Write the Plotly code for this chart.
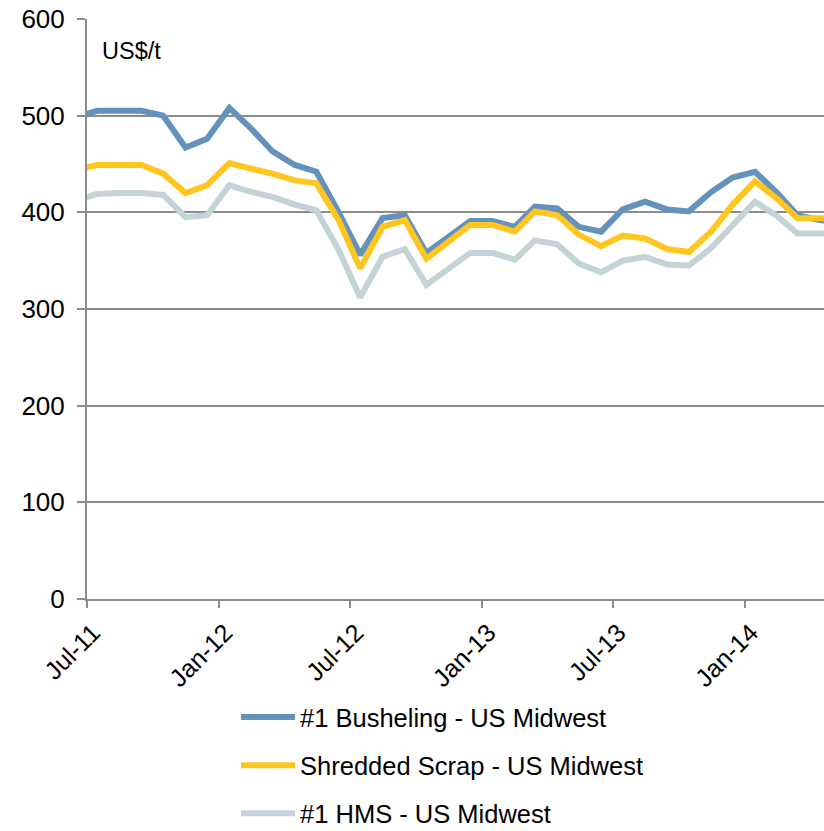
import plotly.graph_objects as go

months = ["2011-06-15", "2011-07-15", "2011-08-15", "2011-09-15", "2011-10-15", "2011-11-15",
          "2011-12-15", "2012-01-15", "2012-02-15", "2012-03-15", "2012-04-15", "2012-05-15",
          "2012-06-15", "2012-07-15", "2012-08-15", "2012-09-15", "2012-10-15", "2012-11-15",
          "2012-12-15", "2013-01-15", "2013-02-15", "2013-03-15", "2013-04-15", "2013-05-15",
          "2013-06-15", "2013-07-15", "2013-08-15", "2013-09-15", "2013-10-15", "2013-11-15",
          "2013-12-15", "2014-01-15", "2014-02-15", "2014-03-15", "2014-04-15", "2014-05-15"]

busheling = [498, 505, 505, 505, 500, 467, 476, 508, 486, 463, 449, 442,
             400, 356, 394, 397, 358, 374, 391, 391, 385, 406, 404, 385,
             380, 403, 411, 403, 401, 421, 436, 442, 420, 397, 392, 390]
shredded = [444, 449, 449, 449, 440, 420, 428, 451, 445, 440, 433, 430,
            392, 342, 385, 392, 352, 370, 387, 387, 380, 401, 397, 377,
            365, 376, 373, 362, 359, 380, 408, 432, 414, 394, 394, 394]
hms = [412, 419, 420, 420, 418, 395, 397, 428, 421, 416, 408, 402,
       361, 312, 354, 362, 325, 341, 358, 358, 351, 371, 367, 347,
       338, 350, 354, 346, 345, 363, 387, 411, 396, 378, 378, 378]

series_names = ["#1 Busheling - US Midwest", "Shredded Scrap - US Midwest", "#1 HMS - US Midwest"]
series_colors = ["#6592BD", "#FFC620", "#C4D4D6"]

tick_vals = ["2011-07-01", "2012-01-01", "2012-07-01", "2013-01-01", "2013-07-01", "2014-01-01"]
tick_text = ["Jul-11", "Jan-12", "Jul-12", "Jan-13", "Jul-13", "Jan-14"]

fig = go.Figure()
for name, vals, col in zip(series_names, [busheling, shredded, hms], series_colors):
    fig.add_trace(go.Scatter(x=months, y=vals, mode="lines", name=name, legendgroup=name,
                             line=dict(color=col, width=6)))

fig.update_layout(
    width=824, height=831,
    margin=dict(l=87, r=0, t=19, b=232, autoexpand=False),
    paper_bgcolor="white", plot_bgcolor="white",
    font=dict(family="Liberation Sans, Arial, sans-serif", color="black"),
    showlegend=True,
    legend=dict(orientation="v", x=0.2022, y=-0.1637, xanchor="left", yanchor="top",
                font=dict(size=25.5, color="black"), traceorder="grouped",
                tracegroupgap=12, itemwidth=54, bgcolor="rgba(0,0,0,0)"),
    annotations=[dict(text="US$/t", xref="paper", yref="paper", x=0.0175, y=0.945,
                      xanchor="left", yanchor="middle", showarrow=False,
                      font=dict(size=23.5, color="black"))],
)
fig.update_xaxes(type="date", range=["2011-07-01", "2014-04-21"],
                 tickmode="array", tickvals=tick_vals, ticktext=tick_text,
                 tickangle=-45, tickfont=dict(size=25), ticklabelshift=6,
                 showgrid=False, showline=True, linecolor="#8C8C8C", linewidth=2,
                 ticks="outside", ticklen=7, tickcolor="#8C8C8C", tickwidth=2)
fig.update_yaxes(range=[0, 600], dtick=100, tickfont=dict(size=26),
                 ticklabelstandoff=7,
                 showgrid=True, gridcolor="#8C8C8C", gridwidth=2,
                 showline=True, linecolor="#8C8C8C", linewidth=2,
                 ticks="outside", ticklen=8, tickcolor="#8C8C8C", tickwidth=2,
                 zeroline=False)

fig.write_html("out.html", config={"displayModeBar": False},
               post_script="document.body.style.margin='0';document.body.style.overflow='hidden';")
